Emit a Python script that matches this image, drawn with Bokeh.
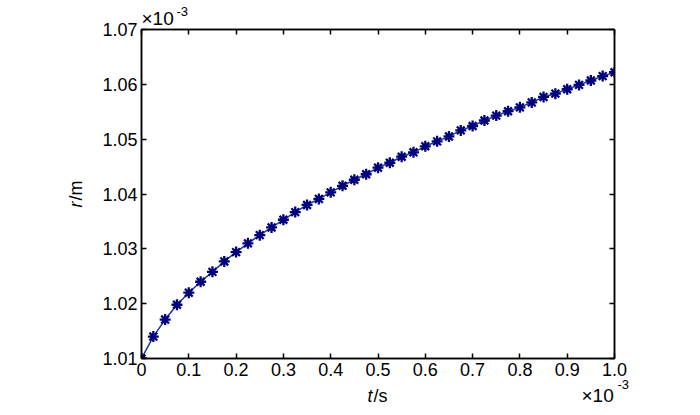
import numpy as np
from bokeh.plotting import figure
from bokeh.models import Range1d, LinearAxis, FixedTicker, Label
from bokeh.embed import file_html
from bokeh.resources import INLINE

# time (x10^-3 s)
t_vals = [0.000, 0.025, 0.050, 0.075, 0.100, 0.125, 0.150, 0.175, 0.200, 0.225,
          0.250, 0.275, 0.300, 0.325, 0.350, 0.375, 0.400, 0.425, 0.450, 0.475,
          0.500, 0.525, 0.550, 0.575, 0.600, 0.625, 0.650, 0.675, 0.700, 0.725,
          0.750, 0.775, 0.800, 0.825, 0.850, 0.875, 0.900, 0.925, 0.950, 0.975,
          1.000]
# radius (x10^-3 m)
r_vals = [1.0100, 1.0140, 1.0171, 1.0198, 1.0220, 1.0240, 1.0258, 1.0277, 1.0294, 1.0310,
          1.0325, 1.0339, 1.0353, 1.0367, 1.0380, 1.0391, 1.0403, 1.0415, 1.0426, 1.0436,
          1.0448, 1.0457, 1.0468, 1.0476, 1.0487, 1.0496, 1.0505, 1.0516, 1.0524, 1.0534,
          1.0543, 1.0551, 1.0558, 1.0567, 1.0577, 1.0583, 1.0591, 1.0599, 1.0607, 1.0615,
          1.0622]

x_ticks = [0.0, 0.1, 0.2, 0.3, 0.4, 0.5, 0.6, 0.7, 0.8, 0.9, 1.0]
x_tick_labels = ["0", "0.1", "0.2", "0.3", "0.4", "0.5", "0.6", "0.7", "0.8", "0.9", "1.0"]
y_ticks = [1.01, 1.02, 1.03, 1.04, 1.05, 1.06, 1.07]
y_tick_labels = ["1.01", "1.02", "1.03", "1.04", "1.05", "1.06", "1.07"]
x_min, x_max = 0.0, 1.0
y_min, y_max = 1.01, 1.07

FONT = "Liberation Sans"
TICK_SIZE = "18px"

p = figure(width=692, height=407, output_backend="svg", toolbar_location=None,
           x_range=Range1d(x_min, x_max), y_range=Range1d(y_min, y_max),
           min_border_left=141, min_border_right=78, min_border_top=29, min_border_bottom=49)
p.xgrid.visible = False
p.ygrid.visible = False
p.outline_line_color = "black"
p.outline_line_width = 1.5
p.background_fill_color = "white"
p.border_fill_color = "white"


def style_axis(ax, ticks, labels, show_labels):
    ax.ticker = FixedTicker(ticks=ticks)
    ax.minor_tick_line_color = None
    ax.major_tick_in = 5
    ax.major_tick_out = 0
    ax.major_tick_line_width = 1.5
    ax.axis_line_width = 1.5
    ax.axis_line_color = "black"
    ax.major_tick_line_color = "black"
    ax.major_label_text_font = FONT
    ax.major_label_text_color = "black"
    if show_labels:
        ax.major_label_overrides = {v: s for v, s in zip(ticks, labels)}
        ax.major_label_text_font_size = TICK_SIZE
        ax.major_label_standoff = 4
    else:
        ax.major_label_overrides = {v: "" for v in ticks}
        ax.major_label_text_font_size = "0px"
        ax.major_label_standoff = 0


style_axis(p.xaxis[0], x_ticks, x_tick_labels, True)
style_axis(p.yaxis[0], y_ticks, y_tick_labels, True)
top_ax = LinearAxis()
right_ax = LinearAxis()
style_axis(top_ax, x_ticks, x_tick_labels, False)
style_axis(right_ax, y_ticks, y_tick_labels, False)
p.add_layout(top_ax, "above")
p.add_layout(right_ax, "right")

p.line(t_vals, r_vals, line_color="#1b3a9c", line_width=1.5)
p.scatter(t_vals, r_vals, marker="asterisk", size=11, line_color="#00007a", line_width=2.3)


def lab(text, anchor_x, anchor_y, dx, dy, size="18px", style="normal", align="left", angle=0.0):
    # anchored at a corner of the data range, shifted by pixel offsets;
    # the vertical anchor is the middle of the text box
    return Label(x=anchor_x, y=anchor_y, x_units="data", y_units="data",
                 x_offset=dx, y_offset=dy, text=text, text_font=FONT,
                 text_font_size=size, text_font_style=style, text_color="black",
                 text_align=align, text_baseline="middle", angle=angle)


# axis titles (in side panels so they are not clipped to the frame)
p.add_layout(lab("r", x_min, y_min, -66, 157, style="italic", align="right", angle=np.pi / 2), "left")
p.add_layout(lab("/m", x_min, y_min, -66, 158, align="left", angle=np.pi / 2), "left")
p.add_layout(lab("t", x_min, y_min, 231, -37, style="italic", align="right"), "left")
p.add_layout(lab("/s", x_min, y_min, 232, -37, align="left"), "right")

# exponent markers
p.add_layout(lab("\u00d710", x_min, y_max, 0, 11, size="19px"), "above")
p.add_layout(lab("-3", x_min, y_max, 35, 18, size="13px"), "left")
p.add_layout(lab("\u00d710", x_min, y_min, 440, -37, size="19px"), "below")
p.add_layout(lab("-3", x_min, y_min, 476, -26, size="13px"), "left")

open("out.html", "w").write(file_html(p, INLINE))
